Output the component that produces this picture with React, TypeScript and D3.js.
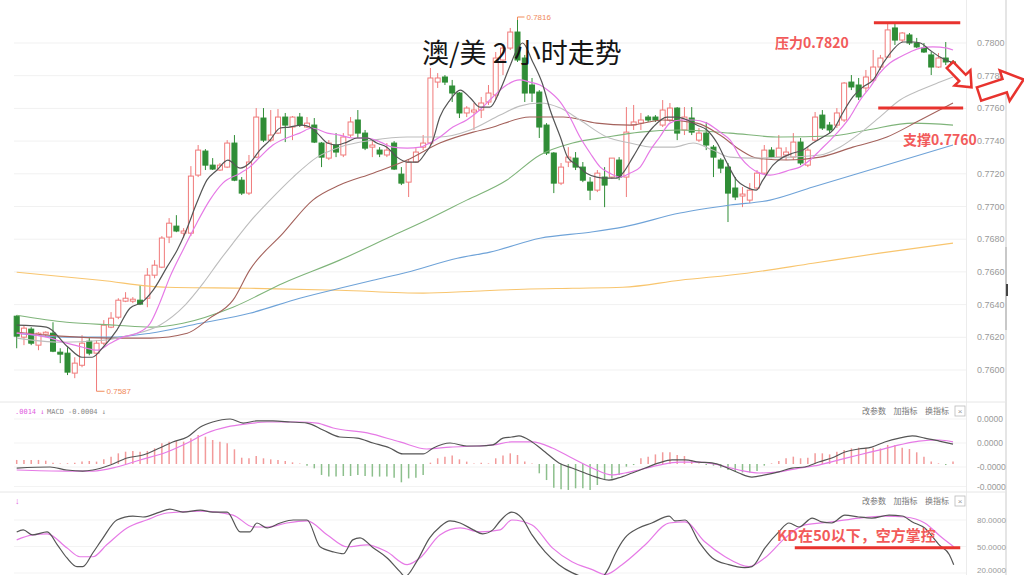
import React from "react";
import * as d3 from "d3";

type OHLC = [number, number, number, number]; // open, high, low, close
type Pt = [number, number]; // candle index, value

const candles: OHLC[] = [
  [0.76329, 0.76335, 0.76133, 0.76207], [0.76201, 0.76274, 0.76152, 0.76256], [0.7625, 0.76262, 0.76152, 0.76164],
  [0.76152, 0.76231, 0.76121, 0.76225], [0.76219, 0.76237, 0.76201, 0.76231], [0.76225, 0.76292, 0.76109, 0.76115],
  [0.76109, 0.76133, 0.76042, 0.76097], [0.76103, 0.76139, 0.75969, 0.75987], [0.75981, 0.76078, 0.7595, 0.76042],
  [0.76029, 0.76213, 0.76017, 0.76164], [0.76176, 0.76195, 0.7609, 0.76103], [0.76103, 0.76182, 0.7587, 0.76164],
  [0.76164, 0.76305, 0.76152, 0.76274], [0.76262, 0.76354, 0.76256, 0.76317], [0.76323, 0.76439, 0.76311, 0.76427],
  [0.76421, 0.76476, 0.76415, 0.76439], [0.76421, 0.76446, 0.76409, 0.76433], [0.76427, 0.76519, 0.76397, 0.76403],
  [0.76439, 0.76623, 0.76384, 0.7658], [0.7658, 0.76672, 0.76561, 0.76641], [0.76629, 0.76819, 0.76623, 0.76807],
  [0.76813, 0.76929, 0.76776, 0.76898], [0.7688, 0.76947, 0.76843, 0.7685], [0.76837, 0.76868, 0.76807, 0.7685],
  [0.76837, 0.77247, 0.76819, 0.77186], [0.77192, 0.77376, 0.7718, 0.77345], [0.77339, 0.77351, 0.77223, 0.77253],
  [0.77253, 0.77296, 0.77223, 0.77229], [0.77223, 0.77266, 0.77217, 0.77253], [0.77241, 0.77406, 0.77235, 0.77388],
  [0.77388, 0.77437, 0.77155, 0.77161], [0.77161, 0.7718, 0.7707, 0.77082], [0.77082, 0.77315, 0.7707, 0.77272],
  [0.77302, 0.77602, 0.77296, 0.77547], [0.77541, 0.77602, 0.77394, 0.77406], [0.77406, 0.7759, 0.77394, 0.77437],
  [0.77449, 0.77596, 0.77443, 0.77547], [0.77547, 0.77572, 0.77394, 0.77498], [0.77486, 0.77553, 0.77406, 0.77547],
  [0.77547, 0.77572, 0.77486, 0.77498], [0.77486, 0.77547, 0.7748, 0.7751], [0.77498, 0.77541, 0.77388, 0.77394],
  [0.77388, 0.77394, 0.77241, 0.77302], [0.77296, 0.77406, 0.77284, 0.77388], [0.77376, 0.77449, 0.77302, 0.77333],
  [0.77315, 0.77449, 0.77302, 0.77425], [0.77437, 0.77547, 0.77425, 0.77517], [0.77529, 0.7759, 0.77419, 0.77449],
  [0.77449, 0.77468, 0.77345, 0.77357], [0.77363, 0.77406, 0.77302, 0.77376], [0.77345, 0.77363, 0.77302, 0.77321],
  [0.77315, 0.77388, 0.77302, 0.77345], [0.77388, 0.774, 0.77223, 0.77229], [0.77198, 0.77241, 0.77131, 0.77143],
  [0.77149, 0.77284, 0.77058, 0.77272], [0.77272, 0.77357, 0.77266, 0.77333], [0.77363, 0.77437, 0.77345, 0.77388],
  [0.77388, 0.77847, 0.77376, 0.77786], [0.77761, 0.77816, 0.77725, 0.77786], [0.77792, 0.77804, 0.77743, 0.77761],
  [0.77737, 0.77774, 0.77639, 0.77694], [0.77694, 0.777, 0.77541, 0.77572], [0.77572, 0.77614, 0.77547, 0.77602],
  [0.77578, 0.77633, 0.77468, 0.7759], [0.7759, 0.7767, 0.77541, 0.77633], [0.77639, 0.77743, 0.77621, 0.77694],
  [0.77682, 0.77945, 0.77651, 0.77908], [0.77896, 0.77988, 0.77804, 0.77969], [0.77969, 0.78092, 0.77957, 0.78067],
  [0.78067, 0.78159, 0.77884, 0.77896], [0.77908, 0.77927, 0.77639, 0.77694], [0.77743, 0.77786, 0.77639, 0.77694],
  [0.777, 0.77712, 0.77419, 0.77486], [0.77498, 0.7751, 0.77315, 0.77327], [0.77327, 0.77333, 0.77082, 0.77143],
  [0.77143, 0.77266, 0.77131, 0.77241], [0.77272, 0.77363, 0.77241, 0.77302], [0.77296, 0.77333, 0.77223, 0.77241],
  [0.77241, 0.77272, 0.77149, 0.77161], [0.77149, 0.7718, 0.77039, 0.771], [0.771, 0.77223, 0.77088, 0.77204],
  [0.7718, 0.77241, 0.76996, 0.77131], [0.7718, 0.77296, 0.77168, 0.77296], [0.77284, 0.77302, 0.77161, 0.7718],
  [0.7718, 0.77608, 0.77058, 0.77455], [0.77498, 0.77621, 0.77468, 0.77517], [0.7751, 0.77572, 0.77468, 0.77529],
  [0.77547, 0.77559, 0.77517, 0.77529], [0.77547, 0.77559, 0.77517, 0.77529], [0.77498, 0.77651, 0.77486, 0.7759],
  [0.77529, 0.77633, 0.77517, 0.77602], [0.77602, 0.77608, 0.77406, 0.77449], [0.77468, 0.77608, 0.77437, 0.77547],
  [0.77541, 0.77608, 0.77437, 0.77455], [0.77406, 0.7748, 0.77394, 0.77449], [0.77449, 0.77517, 0.77345, 0.77376],
  [0.77363, 0.77376, 0.7718, 0.77302], [0.77284, 0.77296, 0.77204, 0.77235], [0.77241, 0.77266, 0.76905, 0.77082],
  [0.77113, 0.7718, 0.77039, 0.77058], [0.77064, 0.77119, 0.76996, 0.77076], [0.77039, 0.77143, 0.77021, 0.771],
  [0.77113, 0.77223, 0.771, 0.77204], [0.77204, 0.77376, 0.77192, 0.77345], [0.77345, 0.77363, 0.77296, 0.77302],
  [0.77302, 0.77437, 0.77296, 0.77357], [0.77315, 0.77363, 0.77284, 0.77333], [0.77302, 0.77449, 0.77284, 0.77394],
  [0.77394, 0.77419, 0.77253, 0.77266], [0.77253, 0.77363, 0.77241, 0.77345], [0.77406, 0.77578, 0.77394, 0.77547],
  [0.77559, 0.7759, 0.77468, 0.7748], [0.77498, 0.77517, 0.77449, 0.77468], [0.77498, 0.77602, 0.7748, 0.77572],
  [0.77529, 0.77761, 0.77517, 0.77755], [0.77761, 0.77804, 0.77712, 0.77731], [0.77743, 0.77786, 0.77651, 0.7767],
  [0.77725, 0.77835, 0.777, 0.77792], [0.77774, 0.77957, 0.77761, 0.77853], [0.77853, 0.77927, 0.77835, 0.77908],
  [0.77914, 0.78122, 0.77908, 0.7808], [0.78092, 0.78128, 0.77988, 0.78018], [0.78018, 0.78067, 0.78006, 0.78061],
  [0.78049, 0.78061, 0.77988, 0.78], [0.78, 0.78031, 0.77969, 0.77976], [0.77969, 0.78, 0.77939, 0.77945],
  [0.77927, 0.77945, 0.77804, 0.77853], [0.77853, 0.77939, 0.77847, 0.77908], [0.77908, 0.78006, 0.77865, 0.77884],
  [0.77884, 0.77896, 0.77841, 0.77853],
];

const priceTicks = [0.76, 0.762, 0.764, 0.766, 0.768, 0.77, 0.772, 0.774, 0.776, 0.778, 0.78];

const ma5: Pt[] = [[0,.76274],[4.1,.76262],[7.1,.76139],[9,.76078],[10.4,.76078],[11.9,.76139],[13.8,.76244],[15.6,.76378],[17.3,.76415],[18.8,.76488],[20.7,.76629],[22.1,.76733],[23.2,.76837],[24.8,.77021],[26.2,.77161],[27.6,.77223],[29.1,.77284],[30.8,.77235],[32.1,.77266],[33.5,.77345],[34.9,.77406],[36.3,.7748],[37.6,.77486],[39.3,.77498],[40.4,.77486],[41.4,.77449],[42.8,.77388],[44.1,.77376],[45.5,.77394],[46.9,.77419],[48.3,.77419],[49.6,.77388],[51,.77363],[52.4,.77302],[53.8,.77272],[55.2,.77272],[56.3,.77327],[57.2,.77388],[58.3,.77547],[59.7,.77651],[61.1,.77712],[62.5,.77664],[63.8,.77608],[65.2,.77608],[66.6,.77712],[67.9,.77853],[68.9,.77957],[69.7,.78],[71.1,.77884],[72.4,.77755],[73.5,.7759],[74.9,.77425],[75.9,.77302],[77.2,.77253],[78.5,.77204],[79.9,.7718],[81.1,.77174],[82.7,.77174],[83.5,.77204],[84.9,.77302],[86.3,.77406],[87.7,.77486],[89.6,.77547],[91,.77547],[92.4,.77529],[93.7,.77498],[95.1,.77468],[96.5,.77388],[97.8,.77272],[99.2,.77161],[100.5,.77119],[101.9,.771],[102.8,.77161],[104.2,.77253],[105.6,.77302],[107,.77327],[108.3,.77345],[109.7,.77388],[111.1,.77425],[112.5,.77468],[113.8,.77572],[115.2,.7767],[116.6,.77731],[118,.77774],[119.4,.77878],[120.7,.77957],[122.1,.78006],[123.5,.78006],[124.5,.78],[125.8,.77957],[127.2,.77914],[129,.77878]];

const ma10: Pt[] = [[0,.76225],[4.1,.76201],[6.9,.76164],[9.1,.76139],[11.1,.76121],[12.9,.76164],[14.6,.76201],[16.6,.76225],[18.4,.76286],[19.7,.76409],[21.1,.76568],[22.9,.76733],[24.8,.76898],[26.6,.77039],[28.4,.77143],[30.8,.77204],[32.1,.77241],[33.5,.77302],[35.3,.77376],[37.2,.77419],[39,.77449],[40.7,.7748],[42.8,.77449],[44.5,.77437],[46.3,.77419],[48.3,.77419],[50.1,.77394],[51.8,.77363],[53.8,.77357],[55.6,.77363],[56.9,.77388],[58.3,.77425],[60.1,.77486],[62,.77529],[63.8,.7759],[65.6,.7767],[67.5,.77743],[69.3,.77774],[70.7,.77761],[72.1,.77743],[73.5,.777],[74.9,.77639],[76.2,.77547],[77.6,.77425],[79,.77327],[80.4,.77241],[81.7,.77204],[83.1,.7718],[84.5,.77204],[85.9,.77241],[87.3,.77345],[88.6,.77425],[90,.7751],[91.4,.77529],[93.2,.77529],[95.1,.7751],[96.9,.77455],[98.3,.77406],[99.7,.77302],[101,.77241],[102.4,.77204],[103.8,.77192],[105.2,.77204],[106.5,.77223],[107.9,.77241],[109.3,.77284],[110.7,.77345],[112.1,.77406],[113.4,.77468],[114.8,.77547],[116.2,.77651],[117.6,.77731],[118.9,.77816],[120.3,.77878],[121.7,.77914],[123.1,.77945],[124.5,.77969],[126.2,.77976],[128.2,.77969],[129,.77957]];

const ma20: Pt[] = [[0,.76195],[6,.7617],[11.9,.76182],[15.6,.76213],[19.7,.76274],[23.2,.76397],[25.7,.76531],[28,.76672],[29.8,.76776],[32.1,.76905],[34.9,.77039],[38.1,.7718],[41.4,.77302],[44.5,.77363],[49.1,.77406],[53.8,.77425],[58.3,.77425],[62.5,.77468],[66.6,.77559],[69.3,.77614],[72.1,.77633],[74.9,.77602],[77.6,.77529],[81.3,.77425],[84.5,.77388],[87.7,.77363],[90.4,.77363],[93.2,.77388],[95.9,.77345],[98.3,.77302],[101.4,.77296],[106.1,.77302],[110.7,.77315],[113.4,.77363],[116.2,.77449],[118.9,.77547],[121.7,.77651],[124.5,.77712],[127.2,.77761],[129,.77792]];

const ma30: Pt[] = [[0,.76231],[6,.76207],[12.9,.76195],[18.4,.76195],[23.5,.76225],[26.6,.76317],[29.8,.76427],[32.1,.76611],[36.7,.76837],[40.8,.77039],[44.5,.77131],[49.1,.77204],[53.8,.77284],[58.3,.77388],[62.9,.77455],[65.2,.7748],[70.7,.77547],[75.3,.77547],[79.9,.7751],[84.5,.77498],[89,.77529],[93.7,.7751],[96.9,.77437],[99.7,.77345],[102,.77296],[106.1,.77284],[110.7,.77302],[115.2,.77363],[119.9,.77425],[124.5,.77529],[129,.77633]];

const ma60: Pt[] = [[0,.76335],[6.9,.76292],[13.8,.76274],[18.4,.76262],[22.9,.76286],[29.8,.76384],[36.7,.76531],[44.5,.76672],[51.4,.76813],[56.5,.76917],[62,.77039],[67.5,.77161],[72.1,.77315],[76.6,.77388],[81.3,.77425],[85.9,.77455],[91.4,.77468],[98.3,.77449],[105.2,.77425],[112.1,.77431],[117.2,.77468],[123.5,.7751],[129,.77498]];

const ma120: Pt[] = [[0,.76225],[6.9,.76201],[12.9,.76201],[18.4,.76225],[25.3,.76286],[32.1,.76347],[39,.76439],[44.5,.765],[49.1,.76549],[53.8,.76598],[60.7,.76684],[65.2,.76721],[72.1,.76806],[79,.76843],[83.5,.76874],[91.4,.7696],[98.3,.77009],[103.8,.77039],[109.7,.77119],[118.9,.77241],[129,.77376]];

const ma250: Pt[] = [[0,.76598],[11.5,.76549],[20.7,.76506],[32.1,.765],[44.5,.76488],[56,.7647],[62.9,.76482],[69.8,.76494],[76.6,.765],[83.5,.76506],[91.4,.76549],[100.6,.76592],[109.7,.76653],[118.9,.76715],[129,.76776]];

// MACD (units of 1e-6)
const macdHist: number[] = [
  2.7, 2.7, 2.7, 2.7, 2.2, 0.9, 0.4, 0.5, 0.9, 1.6,
  2, 1.6, 3.1, 4.9, 7.1, 8.2, 8.7, 8.2, 8.7, 10.4,
  13.8, 14.9, 15.3, 14.9, 17.1, 19.3, 18.2, 16, 14.9, 13.8,
  9.8, 4.2, 3.8, 5.3, 3.8, 3.1, 2.7, 2, 1.1, 0.4,
  -1.1, -2.9, -7.3, -8.4, -8.4, -8, -8, -7.3, -8, -8.4,
  -8.4, -8.4, -9.1, -12.2, -9.6, -9.1, -7.3, 0.9, 3.8, 4.9,
  5.6, 3.1, 1.6, 0.4, 0.9, 0.4, 3.8, 5.6, 7.1, 6,
  1.6, 0.4, -6.2, -10.7, -15.8, -16.9, -17.3, -16.2, -16.2, -17.3,
  -14, -10.7, -9.6, -7.3, -1.8, -0.7, 3.8, 4.9, 6.4, 7.8,
  7.8, 6, 5.3, 2.7, 0.4, -0.7, -1.1, -2.4, -4, -5.1,
  -5.6, -5.6, -4.7, -1.1, 0.4, 2, 3.8, 4.9, 3.8, 4.2,
  7.1, 7.1, 6.4, 8.2, 9.3, 10.4, 10.9, 10.9, 10.9, 10.4,
  12.7, 12.7, 10.9, 10, 7.8, 4.9, 1.6, 0.4, -0.7, 1.6,
];
const macdDif: Pt[] = [[0,-2.7],[4.6,-2],[6.9,-4],[9.1,-4.7],[10.5,-4],[12.9,-0.7],[15.2,4],[17.4,6],[19.7,10.7],[21.5,14.7],[23.5,18],[25.3,24.7],[27,28],[29.4,30],[31.2,27.3],[33.1,28.7],[35.3,28.7],[37.7,28],[40,27.3],[42.2,22.7],[44.5,18],[46.9,17.3],[49.1,14],[51.4,10.7],[53.2,6.7],[56,6.7],[57.4,10.7],[59.7,14],[62,12],[63.8,12],[65.6,12.7],[67,17.3],[68.2,18],[69.2,18.7],[71,14.7],[72.8,8],[74.7,0.7],[76.5,-2.7],[78.3,-6],[80.2,-9.3],[81.6,-10.7],[82.9,-9.3],[84.8,-6],[86.6,-2.7],[88.5,0.7],[90.3,2.7],[92.1,2.7],[94,1.3],[95.8,0.7],[97.6,-2],[99.5,-6],[101.3,-8.7],[103.1,-7.3],[105,-5.3],[106.8,-2.7],[108.6,-2],[110.5,1.3],[112.3,4],[114.1,8],[116,10],[117.8,11.3],[119.6,14.7],[121.6,17.3],[123.4,18.7],[125.1,17.3],[127.1,15.3],[129,13.3]];
const macdDea: Pt[] = [[0,-4],[6.9,-4.7],[10.5,-4.7],[13.8,-2],[17,2.7],[20.7,8],[23.5,14],[26.2,20.7],[29,24.7],[31.7,26.7],[34.5,28],[39,28],[41.4,27.3],[43.6,24],[48.3,20.7],[52.8,14.7],[56.5,10],[59.7,11.3],[63.4,12],[65.6,12.7],[68.2,14.7],[71,14.7],[73.8,10.7],[76.5,4],[79.3,-2.7],[82,-7.3],[83.8,-6],[85.7,-4],[88.5,-0.7],[91.3,1.3],[94,1.3],[96.8,-0.7],[99.5,-4],[102.3,-6],[105,-5.3],[107.8,-2.7],[110.5,-0.7],[113.3,2.7],[116,6],[118.8,9.3],[121.6,12.7],[124.3,15.3],[127.1,16],[129,14.7]];
const macdTicks = [30, 14, -2, -15];

// KD
const kdK: Pt[] = [[0,66.5],[0.9,68.8],[2.2,63.1],[4.2,66.5],[5.6,51.9],[6.9,37.3],[8.3,27.2],[9.1,27.2],[10.5,42.9],[11.9,59.8],[13.8,80],[16,84.5],[17.4,83.4],[19.7,89],[21.1,92.4],[22.9,89],[25.3,91.2],[27,89],[29,89],[30.8,66.5],[32.1,66.5],[33.1,76.6],[34.5,71],[36.3,76.6],[38.1,80],[40,80],[41.8,49.7],[43.6,44],[45,41.8],[46.3,57.5],[47.3,59.8],[49.1,48.5],[51,37.3],[52.8,21.6],[53.5,16],[55.1,32.8],[56.9,59.8],[58.3,72.1],[59.7,78.9],[61.1,76.6],[62.9,68.8],[64.2,64.3],[65.6,68.8],[66.6,78.9],[68.2,89],[69.6,82.2],[71,63.1],[72.8,44],[74.7,29.4],[76.5,20.4],[79.3,14],[80.6,15],[81.6,26.1],[82.4,40.7],[83.8,59.8],[85.7,71],[87.5,76.6],[89.9,84.5],[90.7,78.9],[92.1,80],[94,55.3],[95.8,37.3],[98.1,29.4],[100.3,26.1],[101.3,27.2],[103.1,48.5],[105,66.5],[106.4,76.6],[107.8,72.1],[109.6,82.2],[110.9,77.8],[112.3,76.6],[114.1,85.6],[116,83.4],[117.8,82.2],[120.2,85.6],[122,84.5],[123.4,77.8],[125.1,71],[127.1,51.9],[128.5,40.7],[129.1,29.4]];
const kdD: Pt[] = [[0,57.5],[2.2,63.1],[4.2,64.3],[6.9,48.5],[8.7,38.4],[10.5,38.4],[12.4,51.9],[15.2,71],[17.9,80],[20.7,87.9],[25.3,90.1],[29.8,85.6],[32.6,72.1],[34.5,72.1],[37.2,76.6],[40,78.9],[42.8,63.1],[45.5,49.7],[48.3,51.9],[51,44],[53.8,29.4],[55.6,37.3],[58.3,63.1],[61.1,71],[63.8,66.5],[66.6,68.8],[68.2,80],[71,74.4],[73.8,48.5],[76.5,32.8],[79.3,23.8],[81.1,18.2],[83.4,29.4],[86.6,51.9],[89.9,76.6],[92.1,77.8],[94.8,55.3],[97.6,38.4],[100.9,27.2],[103.1,37.3],[105.9,59.8],[108.6,74.4],[112.3,77.8],[116,82.2],[119.6,84.5],[122.4,83.4],[125.1,76.6],[127.5,59.8],[129.1,49.7]];
const kdTicks = [80, 50, 20];

// annotations (hand-drawn levels)
const resistanceLevel = { value: 0.78124, from: 118.1, to: 130 };
const supportLevel = { value: 0.77602, from: 118.7, to: 130.4 };
const kdLevel = { value: 48.5, from: 107.2, to: 130 };

const title = "澳/美 2 小时走势";
const resistanceText = "压力0.7820";
const supportText = "支撑0.7760";
const kdText = "KD在50以下，空方掌控";
const toolLabels = ["改参数", "加指标", "换指标"];

const arrowPts = (len: number, sh: number, hh: number, hl: number) =>
  [[0, -sh], [len - hl, -sh], [len - hl, -hh], [len, 0], [len - hl, hh], [len - hl, sh], [0, sh]]
    .map((p) => p.join(",")).join(" ");

export default function App() {
  const x = d3.scaleLinear().domain([0, 129]).range([16.7, 953]);
  const y = d3.scaleLinear().domain([0.76, 0.78]).range([370, 43]);
  const ym = d3.scaleLinear().domain([-20, 40]).range([494, 404]);
  const yk = d3.scaleLinear().domain([20, 80]).range([573, 520]);

  const lineP = d3.line<Pt>().x((d) => x(d[0])).y((d) => y(d[1])).curve(d3.curveMonotoneX);
  const lineM = d3.line<Pt>().x((d) => x(d[0])).y((d) => ym(d[1])).curve(d3.curveMonotoneX);
  const lineK = d3.line<Pt>().x((d) => x(d[0])).y((d) => yk(d[1])).curve(d3.curveMonotoneX);

  const fmtP = d3.format(".4f");
  const hiIdx = d3.maxIndex(candles, (c) => c[1]);
  const loIdx = d3.minIndex(candles, (c) => c[2]);

  const RED = "#f07a7a";
  const GREEN = "#2f8d36";
  const ANN = "#e8332e";
  const ANN_TEXT = "#f25a5a";
  const axisFont = "'Liberation Sans', Arial, sans-serif";
  const cjk = "'Noto Sans CJK SC', sans-serif";

  const maSeries: { d: Pt[]; c: string; w: number }[] = [
    { d: ma250, c: "#f8c56e", w: 1.1 },
    { d: ma120, c: "#6fa3d8", w: 1.1 },
    { d: ma60, c: "#7fb47a", w: 1.1 },
    { d: ma30, c: "#a4625c", w: 1.1 },
    { d: ma20, c: "#bdbdbd", w: 1.1 },
    { d: ma10, c: "#e67ae6", w: 1.2 },
    { d: ma5, c: "#555555", w: 1.2 },
  ];

  return (
    <svg width={1024} height={575} style={{ position: "absolute", left: 0, top: 0, background: "#fff" }}
      fontFamily={axisFont}>
      <defs>
        <clipPath id="mainClip"><rect x={12} y={0} width={954} height={401} /></clipPath>
        <clipPath id="macdClip"><rect x={12} y={403} width={954} height={89} /></clipPath>
        <clipPath id="kdClip"><rect x={12} y={493} width={954} height={82} /></clipPath>
      </defs>

      {/* frame lines */}
      <line x1={966.5} x2={966.5} y1={0} y2={575} stroke="#ececec" />
      <line x1={1006} x2={1006} y1={0} y2={575} stroke="#dcdcdc" strokeWidth={1.5} />
      <line x1={1006} x2={1006} y1={247} y2={330} stroke="#c8c8c8" strokeWidth={2} />
      <line x1={1007} x2={1007} y1={284} y2={296} stroke="#444" strokeWidth={2} />
      <line x1={0} x2={1006} y1={402} y2={402} stroke="#e6e6e6" />
      <line x1={0} x2={1006} y1={492} y2={492} stroke="#e6e6e6" />

      {/* main grid + axis */}
      {priceTicks.map((t) => (
        <g key={t}>
          <line x1={14} x2={966} y1={y(t)} y2={y(t)} stroke="#f1f1f1" />
          <text x={977} y={y(t) + 3} fontSize={9} fill="#9a9a9a">{fmtP(t)}</text>
        </g>
      ))}

      <g clipPath="url(#mainClip)">
        {candles.map((c, i) => {
          const [o, h, l, cl] = c;
          const up = cl >= o;
          const col = up ? RED : GREEN;
          const top = y(Math.max(o, cl));
          const bot = y(Math.min(o, cl));
          return (
            <g key={i}>
              <line x1={x(i)} x2={x(i)} y1={y(h)} y2={y(l)} stroke={col} strokeWidth={1} />
              <rect x={x(i) - 2.5} y={top} width={5} height={Math.max(1, bot - top)}
                fill={up ? "#fff" : col} stroke={col} strokeWidth={1} />
            </g>
          );
        })}
        {maSeries.map((s, k) => (
          <path key={k} d={lineP(s.d) || ""} fill="none" stroke={s.c} strokeWidth={s.w} />
        ))}
      </g>

      {/* extreme labels */}
      <polyline points={`${x(loIdx)},${y(candles[loIdx][2])} ${x(loIdx) + 8},${y(candles[loIdx][2])}`}
        fill="none" stroke="#f08a5a" />
      <text x={x(loIdx) + 10} y={y(candles[loIdx][2]) + 3} fontSize={8} fill="#f08a5a">{fmtP(candles[loIdx][2])}</text>
      <polyline points={`${x(hiIdx)},${y(candles[hiIdx][1]) + 3} ${x(hiIdx)},${y(candles[hiIdx][1])} ${x(hiIdx) + 7},${y(candles[hiIdx][1])}`}
        fill="none" stroke="#f08a5a" />
      <text x={x(hiIdx) + 9} y={y(candles[hiIdx][1]) + 3} fontSize={8} fill="#f08a5a">{fmtP(candles[hiIdx][1])}</text>

      {/* title */}
      <text x={422} y={63} fontSize={27} fontFamily={cjk} fill="#151515">{title}</text>

      {/* resistance / support */}
      <line x1={x(resistanceLevel.from)} x2={x(resistanceLevel.to)} y1={y(resistanceLevel.value)} y2={y(resistanceLevel.value)}
        stroke={ANN} strokeWidth={3} />
      <line x1={x(supportLevel.from)} x2={x(supportLevel.to)} y1={y(supportLevel.value)} y2={y(supportLevel.value)}
        stroke={ANN} strokeWidth={3} />
      <text x={775} y={48} fontSize={14} fontFamily={cjk} fontWeight={700} fill={ANN_TEXT}>{resistanceText}</text>
      <text x={903} y={145} fontSize={14} fontFamily={cjk} fontWeight={700} fill={ANN_TEXT}>{supportText}</text>

      {/* arrows */}
      <polygon points={arrowPts(31, 4.5, 11, 13)} transform="translate(950,65) rotate(46)"
        fill="#fff" stroke={ANN} strokeWidth={2.5} strokeLinejoin="miter" />
      <polygon points={arrowPts(47, 7, 16, 20)} transform="translate(979,94) rotate(-18)"
        fill="#fff" stroke={ANN} strokeWidth={2.5} strokeLinejoin="miter" />

      {/* MACD panel */}
      {macdTicks.map((t) => (
        <g key={t}>
          <line x1={14} x2={966} y1={ym(t)} y2={ym(t)} stroke="#f3f3f3" />
          <text x={977} y={ym(t) + 3} fontSize={8.5} fill="#9a9a9a">{(t * 1e-6).toFixed(4)}</text>
        </g>
      ))}
      <g clipPath="url(#macdClip)">
        {macdHist.map((v, i) => (
          <line key={i} x1={x(i)} x2={x(i)} y1={ym(0)} y2={ym(v)}
            stroke={v >= 0 ? "#f29a9a" : "#8cbf8c"} strokeWidth={1.5} />
        ))}
        <path d={lineM(macdDea) || ""} fill="none" stroke="#e67ae6" strokeWidth={1.2} />
        <path d={lineM(macdDif) || ""} fill="none" stroke="#555" strokeWidth={1.2} />
      </g>
      <text x={15} y={414} fontSize={7} fontFamily="'DejaVu Sans Mono', monospace" fill="#e060e0">.0014 ↓</text>
      <text x={47} y={414} fontSize={7} fontFamily="'DejaVu Sans Mono', monospace" fill="#888">MACD -0.0004 ↓</text>

      {/* KD panel */}
      {kdTicks.map((t) => (
        <g key={t}>
          <line x1={14} x2={966} y1={yk(t)} y2={yk(t)} stroke="#f3f3f3" />
          <text x={977} y={Math.min(yk(t) + 3, 572.5)} fontSize={8} fill="#9a9a9a">{t.toFixed(4)}</text>
        </g>
      ))}
      <g clipPath="url(#kdClip)">
        <path d={lineK(kdD) || ""} fill="none" stroke="#e67ae6" strokeWidth={1.2} />
        <path d={lineK(kdK) || ""} fill="none" stroke="#555" strokeWidth={1.2} />
      </g>
      <text x={15} y={504} fontSize={9} fill="#e060e0">↓</text>
      <line x1={x(kdLevel.from)} x2={x(kdLevel.to)} y1={yk(kdLevel.value)} y2={yk(kdLevel.value)}
        stroke={ANN} strokeWidth={3} />
      <text x={777} y={541} fontSize={15} fontFamily={cjk} fontWeight={700} fill={ANN_TEXT}>{kdText}</text>

      {/* panel tool labels */}
      {[411, 501].map((yy) => (
        <g key={yy}>
          {toolLabels.map((s, k) => (
            <text key={s} x={862 + k * 31.5} y={yy + 3} fontSize={8} fontFamily={cjk} fill="#777">{s}</text>
          ))}
          <rect x={955} y={yy - 5} width={10} height={10} fill="#fff" stroke="#bbb" strokeWidth={0.8} />
          <text x={960} y={yy + 3} fontSize={8} textAnchor="middle" fill="#999">×</text>
        </g>
      ))}
    </svg>
  );
}
